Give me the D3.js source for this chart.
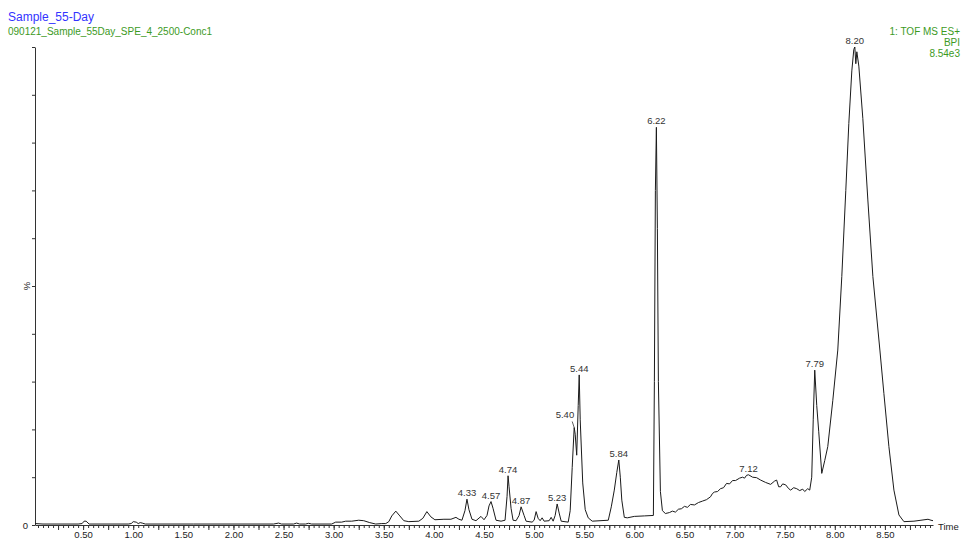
<!DOCTYPE html>
<html>
<head>
<meta charset="utf-8">
<script src="https://cdn.jsdelivr.net/npm/d3@7"></script>
<style>
  body { margin: 0; background: #fff; }
  svg { display: block; font-family: "Liberation Sans", Arial, sans-serif; }
</style>
</head>
<body>
<div id="chart"></div>
<script>
// Retention time (min) and intensity (% of base peak)
const times = [
  0.02, 0.10, 0.45, 0.49, 0.51, 0.53, 0.56, 0.95, 0.98, 1.00, 1.03, 1.05, 1.07, 1.09, 1.12,
  1.60, 2.40, 2.45, 2.48, 2.60, 2.63, 2.66, 2.72, 2.75, 2.78, 2.98, 3.02, 3.08, 3.12, 3.18,
  3.25, 3.30, 3.36, 3.42, 3.48, 3.52, 3.55, 3.58, 3.62, 3.66, 3.70, 3.75, 3.85, 3.89, 3.93,
  3.97, 4.01, 4.10, 4.17, 4.22, 4.25, 4.28, 4.31, 4.33, 4.35, 4.38, 4.42, 4.47, 4.50, 4.53,
  4.55, 4.57, 4.59, 4.62, 4.67, 4.71, 4.73, 4.74, 4.75, 4.77, 4.79, 4.82, 4.85, 4.87, 4.90,
  4.92, 4.98, 5.00, 5.02, 5.04, 5.06, 5.08, 5.10, 5.15, 5.17, 5.19, 5.21, 5.23, 5.25, 5.27,
  5.34, 5.36, 5.38, 5.40, 5.41, 5.425, 5.44, 5.45, 5.46, 5.485, 5.51, 5.54, 5.58, 5.74, 5.77,
  5.80, 5.825, 5.845, 5.86, 5.875, 5.90, 5.93, 6.00, 6.10, 6.19, 6.20, 6.21, 6.22, 6.23, 6.24,
  6.26, 6.28, 6.31, 6.35, 6.38, 6.41, 6.44, 6.47, 6.50, 6.53, 6.56, 6.60, 6.64, 6.68, 6.72,
  6.76, 6.78, 6.80, 6.83, 6.86, 6.89, 6.92, 6.95, 6.98, 7.01, 7.05, 7.08, 7.10, 7.12, 7.14,
  7.18, 7.22, 7.26, 7.31, 7.36, 7.40, 7.42, 7.44, 7.46, 7.48, 7.51, 7.54, 7.56, 7.59,
  7.62, 7.65, 7.68, 7.70, 7.73, 7.75, 7.77, 7.785, 7.80, 7.82, 7.84, 7.87, 7.90, 7.93, 7.98,
  8.03, 8.07, 8.11, 8.14, 8.17, 8.19, 8.20, 8.21, 8.22, 8.24, 8.28, 8.33, 8.38, 8.45, 8.49,
  8.54, 8.59, 8.64, 8.69, 8.79, 8.86, 8.93, 8.96, 8.98
];
const intensity = [
  0.3, 0.2, 0.2, 0.3, 0.8, 0.8, 0.2, 0.2, 0.3, 0.7, 0.6, 0.3, 0.5, 0.4, 0.2,
  0.2, 0.2, 0.4, 0.2, 0.2, 0.4, 0.2, 0.2, 0.35, 0.2, 0.2, 0.6, 0.6, 0.8, 0.8,
  1.0, 0.9, 0.5, 0.2, 0.3, 0.3, 0.7, 1.9, 2.9, 1.9, 0.9, 0.7, 0.8, 1.4, 2.8,
  1.7, 1.1, 1.2, 1.2, 1.6, 1.2, 1.0, 3.0, 5.4, 3.2, 1.2, 0.9, 1.8, 1.1, 2.0,
  4.0, 4.9, 3.5, 1.0, 0.8, 1.0, 6.0, 10.3, 8.0, 3.5, 1.0, 0.9, 2.0, 3.8, 2.0,
  0.8, 0.6, 1.0, 2.8, 1.4, 0.9, 1.5, 0.8, 0.9, 1.6, 0.8, 2.0, 4.4, 2.5, 0.8,
  0.6, 3.0, 12.0, 20.4, 19.0, 14.6, 25.0, 31.4, 22.0, 8.8, 3.2, 1.5, 0.8, 1.0, 3.8,
  7.3, 11.0, 13.6, 10.0, 5.2, 1.6, 1.5, 1.8, 1.9, 2.0, 30, 70, 83.2, 62, 30,
  7, 3.0, 2.4, 2.6, 2.9, 2.7, 3.3, 3.4, 3.9, 3.7, 4.3, 4.2, 4.7, 5.0, 5.3,
  5.9, 6.6, 6.9, 7.0, 7.6, 7.8, 8.7, 8.6, 9.3, 9.3, 9.8, 10.0, 9.8, 10.4, 10.5,
  10.0, 9.9, 9.4, 8.9, 8.5, 9.2, 9.4, 8.0, 8.0, 8.6, 8.4, 7.6, 7.3, 7.8,
  7.6, 7.2, 7.5, 7.0, 7.6, 7.3, 10, 22, 32.4, 25, 19.5, 10.8, 13.5, 16.4, 26,
  36.6, 52, 70, 84, 95, 99.5, 100, 96.5, 99, 96, 85, 68, 52, 36.6, 27.5,
  16.4, 7.3, 2.1, 0.7, 0.8, 1.0, 1.2, 1.0, 0.9
];

// Labelled peaks
const peakTimes = [4.33, 4.57, 4.74, 4.87, 5.23, 5.40, 5.44, 5.84, 6.22, 7.12, 7.79, 8.20];

const xTickLabels = d3.range(0.5, 8.51, 0.5).map(d => d.toFixed(2));

const W = 962, H = 540;
const svg = d3.select("#chart").append("svg").attr("width", W).attr("height", H);

const x = d3.scaleLinear().domain([0.02, 8.98]).range([35, 933]);
const y = d3.scaleLinear().domain([0, 100]).range([525, 47]);

// header texts
svg.append("text").attr("x", 8).attr("y", 21).attr("fill", "#3333ff")
  .attr("font-size", 12).text("Sample_55-Day");
svg.append("text").attr("x", 8).attr("y", 35).attr("fill", "#3c9a1e")
  .attr("font-size", 10).text("090121_Sample_55Day_SPE_4_2500-Conc1");

const info = ["1: TOF MS ES+", "BPI", "8.54e3"];
svg.selectAll(".info").data(info).enter().append("text")
  .attr("class", "info")
  .attr("x", 960).attr("y", (d, i) => 35 + i * 11)
  .attr("text-anchor", "end").attr("fill", "#3c9a1e")
  .attr("font-size", 10).text(d => d);

// x axis: minor ticks
svg.append("g").attr("transform", "translate(0,525)")
  .call(d3.axisBottom(x).tickValues(d3.range(0.05, 8.96, 0.05)).tickSize(3).tickSizeOuter(0).tickFormat(""))
  .call(g => g.select(".domain").attr("stroke", "#333"))
  .call(g => g.selectAll(".tick line").attr("stroke", "#333"));

// x axis: major ticks and labels
svg.append("g").attr("transform", "translate(0,525)")
  .call(d3.axisBottom(x).tickValues(d3.range(0.25, 8.9, 0.25)).tickSize(5).tickSizeOuter(0)
    .tickFormat(d => xTickLabels.includes(d.toFixed(2)) ? d.toFixed(2) : ""))
  .call(g => g.select(".domain").remove())
  .call(g => g.selectAll(".tick line").attr("stroke", "#333"))
  .call(g => g.selectAll(".tick text").attr("y", 12.5).attr("dy", 0)
    .attr("font-size", 9.5).attr("font-family", "Liberation Sans, Arial, sans-serif").attr("fill", "#222"));

svg.append("text").attr("x", 938).attr("y", 530).attr("font-size", 9.5)
  .attr("fill", "#222").text("Time");

// y axis
svg.append("g").attr("transform", "translate(35,0)")
  .call(d3.axisLeft(y).tickValues(d3.range(0, 101, 10)).tickSize(3).tickSizeOuter(0)
    .tickPadding(4).tickFormat(d => d === 0 ? "0" : ""))
  .call(g => g.select(".domain").attr("stroke", "#333"))
  .call(g => g.selectAll(".tick line").attr("stroke", "#333"))
  .call(g => g.selectAll(".tick text").attr("font-size", 9.5)
    .attr("font-family", "Liberation Sans, Arial, sans-serif").attr("fill", "#222"));

svg.append("text").attr("transform", "translate(30,286) rotate(-90)")
  .attr("text-anchor", "middle").attr("font-size", 9.5).attr("fill", "#222").text("%");

// trace
const pts = times.map((t, i) => [t, intensity[i]]);
svg.append("path").datum(pts)
  .attr("fill", "none").attr("stroke", "#1a1a1a").attr("stroke-width", 1)
  .attr("d", d3.line().x(d => x(d[0])).y(d => y(d[1])));

// peak labels
function apex(t) {
  let best = [t, 0];
  pts.forEach(p => { if (Math.abs(p[0] - t) <= 0.025 && p[1] > best[1]) best = p; });
  return best;
}
peakTimes.forEach(t => {
  const a = apex(t);
  const px = x(a[0]), py = y(a[1]);
  const lbl = t.toFixed(2);
  if (lbl === "5.40") {
    svg.append("line").attr("x1", px - 2).attr("y1", py - 6).attr("x2", px).attr("y2", py)
      .attr("stroke", "#333").attr("stroke-width", 0.8);
    svg.append("text").attr("x", px).attr("y", py - 9).attr("text-anchor", "end")
      .attr("font-size", 9.5).attr("fill", "#333").text(lbl);
  } else {
    svg.append("text").attr("x", px).attr("y", py - 3).attr("text-anchor", "middle")
      .attr("font-size", 9.5).attr("fill", "#333").text(lbl);
  }
});
</script>
</body>
</html>
